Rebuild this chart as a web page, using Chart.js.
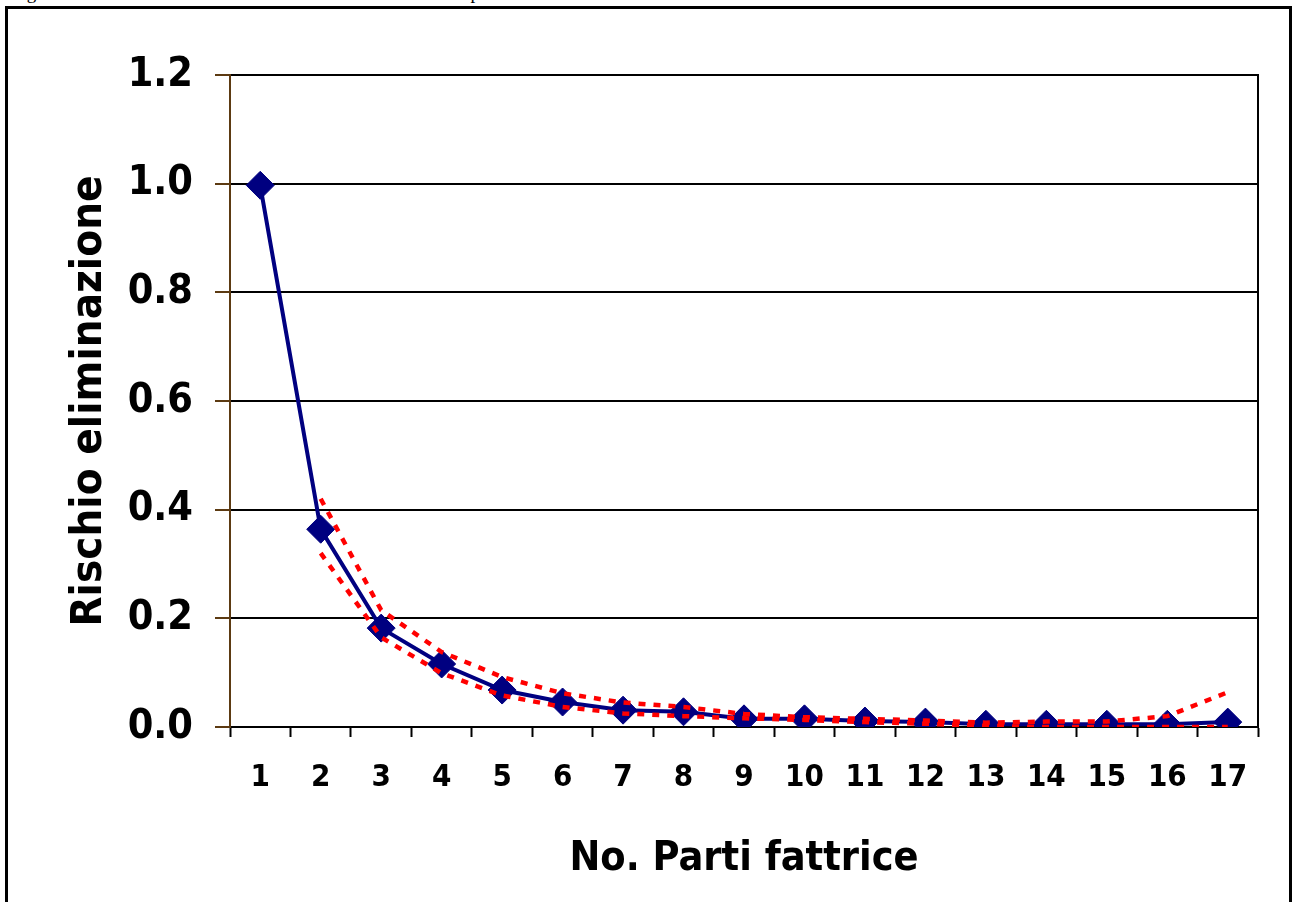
<!DOCTYPE html>
<html>
<head>
<meta charset="utf-8">
<script src="https://cdn.jsdelivr.net/npm/chart.js@4.4.1/dist/chart.umd.min.js"></script>
<style>
  html, body { margin: 0; padding: 0; background: #fff; overflow: hidden; }
  #caption {
    position: absolute; left: 11px; top: -18px; line-height: 21px;
    font: 19px "Liberation Serif", serif; color: #000; white-space: nowrap;
  }
  #frame {
    position: absolute; left: 5px; top: 6px; width: 1287px; height: 960px;
    border: 3px solid #000; box-sizing: border-box;
  }
  #chart { position: absolute; left: 0; top: 0; }
</style>
</head>
<body>
<div id="caption">Figura 2. Rischio di eliminazione in funzione del numero di parti</div>
<div id="frame"></div>
<canvas id="chart" width="1294" height="902"></canvas>
<script>
// categories: number of calvings
const parti = ["1", "2", "3", "4", "5", "6", "7", "8", "9", "10", "11", "12", "13", "14", "15", "16", "17"];

// culling risk (blue line with diamonds)
const rischio = [0.997, 0.364, 0.182, 0.116, 0.068, 0.046, 0.031, 0.028, 0.015, 0.015, 0.011, 0.009, 0.005, 0.005, 0.005, 0.005, 0.009];

// confidence limits (red dotted lines)
const limiteSup = [null, 0.42, 0.215, 0.138, 0.092, 0.062, 0.045, 0.037, 0.024, 0.018, 0.015, 0.012, 0.008, 0.01, 0.01, 0.02, 0.064];
const limiteInf = [null, 0.32, 0.165, 0.099, 0.058, 0.037, 0.025, 0.02, 0.016, 0.013, 0.009, 0.006, 0.002, 0.0, 0.0, 0.0, 0.0];

// y axis ticks
const yTicks = [0, 0.2, 0.4, 0.6, 0.8, 1.0, 1.2];

const fontFam = "'DejaVu Sans Condensed', 'DejaVu Sans', sans-serif";
const brown = "#5c3a12";

new Chart(document.getElementById("chart"), {
  type: "line",
  data: {
    labels: parti,
    datasets: [
      {
        label: "Limite superiore",
        data: limiteSup,
        borderColor: "#ff0000",
        borderWidth: 4.5,
        borderDash: [7, 8],
        pointRadius: 0,
        fill: false,
      },
      {
        label: "Limite inferiore",
        data: limiteInf,
        borderColor: "#ff0000",
        borderWidth: 4.5,
        borderDash: [7, 8],
        pointRadius: 0,
        fill: false,
      },
      {
        label: "Rischio eliminazione",
        data: rischio,
        borderColor: "#000080",
        backgroundColor: "#000080",
        borderWidth: 4,
        pointStyle: "rectRot",
        pointRadius: 14,
        pointBorderWidth: 1,
        pointBackgroundColor: "#000080",
        pointBorderColor: "#000080",
        fill: false,
      },
    ],
  },
  options: {
    responsive: false,
    animation: false,
    layout: { padding: { left: 0, top: 75, right: 36, bottom: 0 } },
    plugins: {
      legend: { display: false },
      tooltip: { enabled: false },
    },
    scales: {
      x: {
        type: "category",
        offset: true,
        afterFit: (scale) => { scale.height = 175; },
        grid: {
          offset: true,
          drawOnChartArea: false,
          drawTicks: true,
          tickLength: 10,
          tickColor: "#000",
          tickWidth: 2,
        },
        border: { color: "#000", width: 2 },
        ticks: {
          color: "#000",
          padding: 22,
          maxRotation: 0,
          autoSkip: false,
          font: { family: fontFam, weight: "bold", size: 31 },
        },
        title: {
          display: true,
          text: "No. Parti fattrice",
          color: "#000",
          padding: { top: 0, bottom: 18 },
          font: { family: fontFam, weight: "bold", size: 41 },
        },
      },
      y: {
        min: 0,
        max: 1.2,
        afterFit: (scale) => { scale.width = 230; },
        afterBuildTicks: (scale) => { scale.ticks = yTicks.map((v) => ({ value: v })); },
        grid: {
          color: "#000",
          lineWidth: 2,
          drawTicks: true,
          tickLength: 15,
          tickColor: brown,
          tickWidth: 2,
        },
        border: { color: brown, width: 2 },
        ticks: {
          color: "#000",
          padding: 22,
          callback: (v) => Number(v).toFixed(1),
          font: { family: fontFam, weight: "bold", size: 41 },
        },
        title: {
          display: true,
          text: "Rischio eliminazione",
          color: "#000",
          padding: { top: 64, bottom: 0 },
          font: { family: fontFam, weight: "bold", size: 43.5 },
        },
      },
      y2: {
        position: "right",
        min: 0,
        max: 1.2,
        afterFit: (scale) => { scale.width = 0; },
        grid: { drawOnChartArea: false, drawTicks: false },
        border: { color: "#000", width: 2 },
        ticks: { display: false },
      },
    },
  },
});
</script>
</body>
</html>
